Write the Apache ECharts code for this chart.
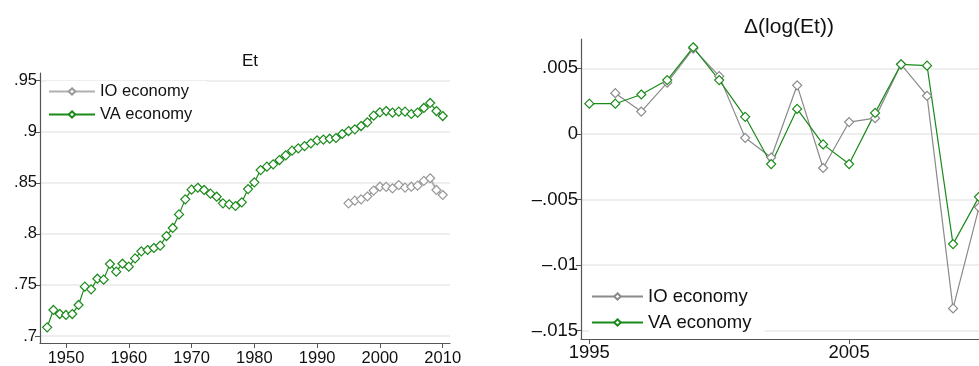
<!DOCTYPE html>
<html><head><meta charset="utf-8">
<script src="https://cdn.jsdelivr.net/npm/echarts@6/dist/echarts.min.js"></script>
<style>html,body{margin:0;padding:0;background:#fff}#c{width:979px;height:366px}</style>
</head><body><div id="c"></div>
<script>
const yearsLevel = [1947,1948,1949,1950,1951,1952,1953,1954,1955,1956,1957,1958,1959,1960,1961,1962,1963,1964,1965,1966,1967,1968,1969,1970,1971,1972,1973,1974,1975,1976,1977,1978,1979,1980,1981,1982,1983,1984,1985,1986,1987,1988,1989,1990,1991,1992,1993,1994,1995,1996,1997,1998,1999,2000,2001,2002,2003,2004,2005,2006,2007,2008,2009,2010];
const vaLevel = [0.7085,0.7255,0.7215,0.7206,0.7215,0.7304,0.7483,0.7457,0.7561,0.7552,0.7705,0.7630,0.7708,0.7679,0.7760,0.7829,0.7842,0.7862,0.7885,0.7979,0.8058,0.8191,0.8338,0.8433,0.8452,0.8430,0.8394,0.8364,0.8299,0.8289,0.8273,0.8309,0.8439,0.8505,0.8625,0.8658,0.8681,0.8723,0.8769,0.8815,0.8838,0.8860,0.8887,0.8916,0.8923,0.8932,0.8939,0.8978,0.9007,0.9024,0.9056,0.9092,0.9158,0.9190,0.9203,0.9187,0.9197,0.9197,0.9174,0.9187,0.9233,0.9282,0.9203,0.9154];
const ioYears = [1995,1996,1997,1998,1999,2000,2001,2002,2003,2004,2005,2006,2007,2008,2009,2010];
const ioLevel = [0.8299,0.8325,0.8338,0.8366,0.8424,0.8462,0.8461,0.8446,0.8478,0.8453,0.8462,0.8472,0.8519,0.8545,0.8430,0.8381];
const diffYears = [1995,1996,1997,1998,1999,2000,2001,2002,2003,2004,2005,2006,2007,2008,2009,2010];
const vaDiff = [0.0023,0.0023,0.0030,0.0041,0.0066,0.0041,0.0013,-0.0023,0.0019,-0.0008,-0.0023,0.0016,0.0053,0.0052,-0.0084,-0.0048];
const ioDiff = [null,0.0031,0.0017,0.0039,0.0065,0.0044,-0.0003,-0.0018,0.0037,-0.0026,0.0009,0.0012,0.0053,0.0029,-0.0133,-0.0056];
const leftYTicks = [0.7,0.75,0.8,0.85,0.9,0.95];
const leftXTicks = [1950,1960,1970,1980,1990,2000,2010];
const rightYTicks = [-0.015,-0.01,-0.005,0,0.005];
const rightXTicks = [1995,2005];

const zip = (xs, ys) => xs.map((x,i)=>[x, ys[i]]);
function fmt(v){
  let s = String(+v.toFixed(4));
  let neg = s[0]==='-';
  if (neg) s = s.slice(1);
  if (s.startsWith('0.')) s = s.slice(1);
  return (neg?'\u2013':'') + s;
}
const FONT = 'Liberation Sans, Arial, sans-serif';
const GREEN = '#1a8a1a';
const axisCol = '#555';
function yAx(gi, min, max, ticks, fs){
  return {type:'value', gridIndex:gi, min:min, max:max,
    axisLine:{show:true, lineStyle:{color:axisCol, width:1.2}},
    axisTick:{show:true, length:5, lineStyle:{color:axisCol}, customValues:ticks},
    axisLabel:{customValues:ticks, formatter:fmt, color:'#111', fontSize:fs, fontFamily:FONT, margin:3},
    splitLine:{show:true, lineStyle:{color:'#e8e8e8', width:1.5}}};
}
function xAx(gi, min, max, ticks, fs, mg){
  return {type:'value', gridIndex:gi, min:min, max:max,
    axisLine:{show:true, onZero:false, lineStyle:{color:axisCol, width:1.2}},
    axisTick:{show:true, length:5, lineStyle:{color:axisCol}, customValues:ticks},
    axisLabel:{customValues:ticks, formatter:v=>String(v), color:'#111', fontSize:fs, fontFamily:FONT, margin:mg},
    splitLine:{show:false}};
}
const chart = echarts.init(document.getElementById('c'), null, {renderer:'canvas'});
chart.setOption({
  animation:false,
  textStyle:{fontFamily:FONT},
  title:[
    {text:'Et', left:245, top:48, textAlign:'center', textStyle:{fontSize:17, fontWeight:'normal', color:'#111', fontFamily:FONT}},
    {text:'\u0394(log(Et))', left:784, top:12, textAlign:'center', textStyle:{fontSize:21, fontWeight:'normal', color:'#111', fontFamily:FONT}}
  ],
  grid:[
    {left:40, top:73, width:410, height:270, outerBoundsMode:'none', containLabel:false},
    {left:581, top:39, width:411, height:300, outerBoundsMode:'none', containLabel:false}
  ],
  xAxis:[xAx(0,1945.86,2011.16,leftXTicks,16.5,7), xAx(1,1994.68,2010.5,rightXTicks,18.5,4)],
  yAxis:[yAx(0,0.69315,0.95754,leftYTicks,16.5), yAx(1,-0.01563,0.00723,rightYTicks,18.5)],
  legend:[
    {left:46, top:81, orient:'vertical', itemWidth:46, itemHeight:8, itemGap:6, backgroundColor:'#fff', padding:[2,14,2,2],
     textStyle:{fontSize:16.5, lineHeight:15, color:'#111', fontFamily:FONT}, data:['IO economy','VA economy'], selectedMode:false},
    {left:589, top:285, orient:'vertical', itemWidth:51, itemHeight:8, itemGap:7, backgroundColor:'#fff', padding:[2,8,6,2],
     textStyle:{fontSize:18.5, lineHeight:17, color:'#111', fontFamily:FONT}, data:['IO economy ','VA economy '], selectedMode:false}
  ],
  series:[
    {name:'IO economy', type:'line', xAxisIndex:0, yAxisIndex:0, data:zip(ioYears, ioLevel),
     symbol:'diamond', symbolSize:9, showAllSymbol:true, lineStyle:{color:'#b0b0b0', width:2}, itemStyle:{color:'#fff', borderColor:'#999', borderWidth:1.2}, color:'#b0b0b0'},
    {name:'VA economy', type:'line', xAxisIndex:0, yAxisIndex:0, data:zip(yearsLevel, vaLevel),
     symbol:'diamond', symbolSize:9, showAllSymbol:true, lineStyle:{color:GREEN, width:1.2}, itemStyle:{color:'#fff', borderColor:GREEN, borderWidth:1.2}, color:GREEN},
    {name:'IO economy ', type:'line', xAxisIndex:1, yAxisIndex:1, data:zip(diffYears, ioDiff),
     symbol:'diamond', symbolSize:9, showAllSymbol:true, lineStyle:{color:'#8a8a8a', width:1.2}, itemStyle:{color:'#fff', borderColor:'#8a8a8a', borderWidth:1.2}, color:'#8a8a8a'},
    {name:'VA economy ', type:'line', xAxisIndex:1, yAxisIndex:1, data:zip(diffYears, vaDiff),
     symbol:'diamond', symbolSize:9, showAllSymbol:true, lineStyle:{color:GREEN, width:1.2}, itemStyle:{color:'#fff', borderColor:GREEN, borderWidth:1.2}, color:GREEN}
  ]
});
</script></body></html>
